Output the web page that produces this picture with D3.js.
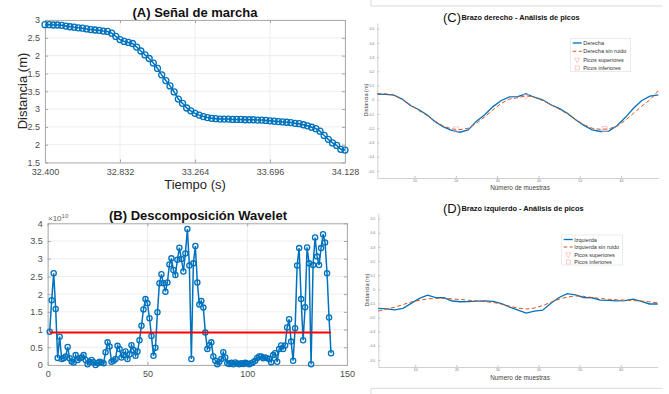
<!DOCTYPE html>
<html>
<head>
<meta charset="utf-8">
<script src="https://cdn.jsdelivr.net/npm/d3@7"></script>
<style>
  body { margin: 0; background: #fff; }
  text { font-family: "Liberation Sans", Arial, Helvetica, sans-serif; }
</style>
</head>
<body>
<svg id="chart" width="669" height="394"></svg>
<script>

// (A) gait signal, one sample every 0.024 s
var timeStartA = 32.4
var timeStepA = 0.024
var distA = [5.37, 5.37, 5.36, 5.36, 5.35, 5.33, 5.31, 5.30, 5.28, 5.27, 5.25, 5.23, 5.22, 5.21, 5.19, 5.18,
  5.13, 5.04, 4.95, 4.90, 4.87, 4.84, 4.74, 4.63, 4.52, 4.42, 4.29, 4.14, 3.96, 3.80, 3.65, 3.48, 3.28,
  3.16, 3.03, 2.95, 2.88, 2.83, 2.79, 2.76, 2.74, 2.73, 2.72, 2.72, 2.72, 2.71, 2.71, 2.71, 2.70, 2.70,
  2.70, 2.69, 2.69, 2.68, 2.67, 2.66, 2.65, 2.64, 2.63, 2.62, 2.60, 2.59, 2.56, 2.53, 2.49, 2.45, 2.38,
  2.26, 2.15, 2.05, 1.98, 1.87, 1.85]
var xTicksA = [32.400, 32.832, 33.264, 33.696, 34.128]
var yTicksA = [1.5, 2, 2.5, 3, 3.5, 4, 4.5, 5, 5.5]
var yTickLabelsA = ['1.5', '2', '2.5', '3', '3.5', '1.5', '2', '2.5', '3']

// (B) wavelet coefficients (x10^10), samples 1..142
var waveB = [0.94, 1.83, 2.59, 1.58, 0.20, 0.80, 0.17, 0.19, 0.24, 0.51, 0.19, 0.10, 0.07, 0.28, 0.14, 0.19,
  0.21, 0.28, 0.14, 0.02, 0.09, 0.14, 0.08, 0.00, 0.05, 0.09, 0.07, 0.05, 0.36, 0.64, 0.52, 0.09, 0.12,
  0.17, 0.54, 0.45, 0.21, 0.28, 0.38, 0.17, 0.30, 0.56, 0.42, 0.26, 0.38, 0.70, 1.11, 1.57, 1.86, 1.74,
  1.32, 0.82, 0.26, 0.49, 1.49, 2.31, 2.56, 2.31, 2.07, 2.33, 2.84, 3.01, 2.68, 2.54, 2.97, 3.31, 2.99,
  2.64, 3.15, 3.84, 2.81, 0.17, 2.87, 3.36, 2.33, 1.71, 1.81, 1.62, 0.92, 0.45, 0.56, 0.64, 0.24, 0.12,
  0.02, 0.09, 0.17, 0.36, 0.21, 0.05, 0.03, 0.06, 0.02, 0.07, 0.04, 0.02, 0.05, 0.03, 0.06, 0.04, 0.02,
  0.05, 0.08, 0.12, 0.20, 0.24, 0.24, 0.19, 0.21, 0.19, 0.17, 0.08, 0.28, 0.33, 0.09, 0.45, 0.55, 0.45,
  0.55, 1.06, 1.29, 0.66, 0.12, 1.04, 2.81, 3.30, 1.86, 0.70, 1.63, 3.32, 2.87, 0.02, 2.82, 3.60, 3.06,
  2.82, 3.30, 3.69, 3.46, 2.59, 1.34, 0.33]
var thresholdB = 0.92
var thresholdRangeB = [1, 142]
var xTicksB = [0, 50, 100, 150]
var yTicksB = [0, 0.5, 1, 1.5, 2, 2.5, 3, 3.5, 4]

// (C) and (D) arm signals, every second sample
var samplesCD = d3.range(1, 70, 2)
var derecha = [0.040, 0.038, 0.033, 0.005, -0.040, -0.068, -0.105, -0.155, -0.190, -0.215, -0.228, -0.212,
  -0.150, -0.105, -0.048, -0.005, 0.020, 0.022, 0.042, 0.018, 0.000, -0.035, -0.060, -0.095, -0.140,
  -0.180, -0.212, -0.223, -0.220, -0.182, -0.125, -0.060, -0.005, 0.025, 0.035]
var derechaSinRuido = [0.044, 0.042, 0.035, 0.005, -0.035, -0.075, -0.110, -0.150, -0.185, -0.205, -0.210,
  -0.200, -0.165, -0.120, -0.070, -0.025, 0.005, 0.015, 0.028, 0.018, -0.005, -0.035, -0.065, -0.100,
  -0.140, -0.175, -0.200, -0.208, -0.205, -0.185, -0.145, -0.095, -0.045, 0.000, 0.063]
var picosSupC = [[37, 0.026]]
var picosInfC = [[20, -0.208], [56, -0.204]]
var izquierda = [-0.135, -0.139, -0.145, -0.135, -0.100, -0.064, -0.041, -0.059, -0.060, -0.083, -0.088,
  -0.087, -0.084, -0.082, -0.085, -0.102, -0.127, -0.147, -0.168, -0.154, -0.148, -0.099, -0.058, -0.031,
  -0.040, -0.058, -0.060, -0.077, -0.079, -0.082, -0.080, -0.069, -0.085, -0.104, -0.104]
var izquierdaSinRuido = [-0.154, -0.140, -0.127, -0.108, -0.090, -0.078, -0.068, -0.064, -0.064, -0.068,
  -0.072, -0.078, -0.083, -0.088, -0.093, -0.105, -0.120, -0.133, -0.140, -0.133, -0.115, -0.092, -0.070,
  -0.055, -0.047, -0.050, -0.058, -0.065, -0.070, -0.074, -0.077, -0.080, -0.083, -0.089, -0.095]
var xTicksCD = [10, 20, 30, 40, 50, 60]
var yTicksCD = [-0.5, -0.4, -0.3, -0.2, -0.1, 0, 0.1, 0.2, 0.3, 0.4, 0.5]

var blue = '#0072BD'
var orange = '#D95319'
var pale = '#ffa8a8'
var axisGray = '#a6a6a6'
var labelGray = '#4d4d4d'

var svg = d3.select('#chart')

// matlab style box axes with grid (panels A and B)
function boxAxes(g, x, y, xTicks, yTicks, xFmt, yFmt) {
  var x0 = x.range()[0], x1 = x.range()[1], y0 = y.range()[0], y1 = y.range()[1]
  var grid = g.append('g').attr('class', 'grid')
  grid.selectAll('.gx').data(xTicks).enter().append('line')
    .attr('x1', d => x(d)).attr('x2', d => x(d)).attr('y1', y0).attr('y2', y1)
    .attr('stroke', '#e8e8e8').attr('stroke-width', 0.8)
  grid.selectAll('.gy').data(yTicks).enter().append('line')
    .attr('y1', d => y(d)).attr('y2', d => y(d)).attr('x1', x0).attr('x2', x1)
    .attr('stroke', '#e8e8e8').attr('stroke-width', 0.8)

  var axes = [
    [d3.axisBottom(x).tickValues(xTicks).tickFormat(xFmt).tickPadding(6), 'translate(0,' + y0 + ')'],
    [d3.axisTop(x).tickValues(xTicks).tickFormat('').tickPadding(5), 'translate(0,' + y1 + ')'],
    [d3.axisLeft(y).tickValues(yTicks).tickFormat(yFmt).tickPadding(5), 'translate(' + x0 + ',0)'],
    [d3.axisRight(y).tickValues(yTicks).tickFormat('').tickPadding(5), 'translate(' + x1 + ',0)']
  ]
  axes.forEach(function(a) {
    var ax = g.append('g').attr('transform', a[1])
      .call(a[0].tickSizeInner(-3).tickSizeOuter(0))
    ax.select('.domain').attr('stroke', axisGray).attr('stroke-width', 0.9)
    ax.selectAll('.tick line').attr('stroke', axisGray)
    ax.selectAll('.tick text').attr('fill', labelGray).style('font-size', '9px')
      .style('font-family', '"Liberation Sans", Arial, sans-serif')
  })
}

// ---- (A)
var xA = d3.scaleLinear().domain([32.4, 34.128]).range([45, 345])
var yA = d3.scaleLinear().domain([1.5, 5.5]).range([162.5, 20])
var gA = svg.append('g')
boxAxes(gA, xA, yA, xTicksA, yTicksA, d3.format('.3f'), (d, i) => yTickLabelsA[i])

var pointsA = distA.map((v, i) => [timeStartA + i * timeStepA, v])
gA.append('path').datum(pointsA)
  .attr('d', d3.line().x(d => xA(d[0])).y(d => yA(d[1])))
  .attr('fill', 'none').attr('stroke', blue).attr('stroke-width', 1.5)
gA.selectAll('.mA').data(pointsA).enter().append('circle')
  .attr('cx', d => xA(d[0])).attr('cy', d => yA(d[1])).attr('r', 3)
  .attr('fill', 'none').attr('stroke', blue).attr('stroke-width', 1.3)

gA.append('text').attr('x', 195).attr('y', 17).attr('text-anchor', 'middle')
  .style('font-size', '13px').style('font-weight', 'bold').attr('fill', '#111').text('(A) Señal de marcha')
gA.append('text').attr('x', 195).attr('y', 189).attr('text-anchor', 'middle')
  .style('font-size', '13px').attr('fill', '#262626').text('Tiempo (s)')
gA.append('text').attr('transform', 'translate(27,91) rotate(-90)').attr('text-anchor', 'middle')
  .style('font-size', '13px').attr('fill', '#262626').text('Distancia (m)')

// ---- (B)
var xB = d3.scaleLinear().domain([0, 150]).range([47.7, 347])
var yB = d3.scaleLinear().domain([0, 4]).range([365, 223.3])
var gB = svg.append('g')
boxAxes(gB, xB, yB, xTicksB, yTicksB, d3.format('d'), d3.format('~g'))

var pointsB = waveB.map((v, i) => [i + 1, v])
gB.append('path').datum(pointsB)
  .attr('d', d3.line().x(d => xB(d[0])).y(d => yB(d[1])))
  .attr('fill', 'none').attr('stroke', blue).attr('stroke-width', 1.5)
gB.selectAll('.mB').data(pointsB).enter().append('circle')
  .attr('cx', d => xB(d[0])).attr('cy', d => yB(d[1])).attr('r', 2.6)
  .attr('fill', 'none').attr('stroke', blue).attr('stroke-width', 1.3)
gB.append('line')
  .attr('x1', xB(thresholdRangeB[0])).attr('x2', xB(thresholdRangeB[1]))
  .attr('y1', yB(thresholdB)).attr('y2', yB(thresholdB))
  .attr('stroke', '#ff0000').attr('stroke-width', 2)

var expo = gB.append('text').attr('x', 48).attr('y', 221).style('font-size', '8px').attr('fill', '#666')
expo.append('tspan').text('×10')
expo.append('tspan').attr('dy', -3).style('font-size', '6px').text('10')
gB.append('text').attr('x', 198).attr('y', 220).attr('text-anchor', 'middle')
  .style('font-size', '13px').style('font-weight', 'bold').attr('fill', '#111').text('(B) Descomposición Wavelet')

// ---- (C) and (D)
function armPanel(cfg) {
  var x = d3.scaleLinear().domain([1, 69]).range(cfg.xr)
  var y = d3.scaleLinear().domain([-0.55, 0.54]).range(cfg.yr)
  var g = svg.append('g')

  var ax = g.append('g').attr('transform', 'translate(0,' + cfg.yr[0] + ')')
    .call(d3.axisBottom(x).tickValues(xTicksCD).tickSizeInner(-2).tickSizeOuter(0).tickPadding(2))
  var ay = g.append('g').attr('transform', 'translate(' + cfg.xr[0] + ',0)')
    .call(d3.axisLeft(y).tickValues(yTicksCD).tickSizeInner(-2).tickSizeOuter(0).tickPadding(3)
      .tickFormat(d => d === 0 ? '0' : d.toFixed(1)))
  ;[ax, ay].forEach(function(a) {
    a.select('.domain').attr('stroke', '#c4c4c4').attr('stroke-width', 0.8)
    a.selectAll('.tick line').attr('stroke', '#c4c4c4')
    a.selectAll('.tick text').attr('fill', '#777').style('font-size', '3.5px')
      .style('font-family', '"Liberation Sans", Arial, sans-serif')
  })

  var line = d3.line().x((d, i) => x(samplesCD[i])).y(d => y(d))
  g.append('path').datum(cfg.raw).attr('d', line)
    .attr('fill', 'none').attr('stroke', blue).attr('stroke-width', 1.3)
  g.append('path').datum(cfg.clean).attr('d', line)
    .attr('fill', 'none').attr('stroke', orange).attr('stroke-width', 1)
    .attr('stroke-dasharray', '4,2.5')

  g.selectAll('.sup').data(cfg.sup).enter().append('path')
    .attr('d', d3.symbol().type(d3.symbolTriangle).size(14))
    .attr('transform', d => 'translate(' + x(d[0]) + ',' + y(d[1]) + ') rotate(180)')
    .attr('fill', 'none').attr('stroke', pale).attr('stroke-width', 0.6)
  g.selectAll('.inf').data(cfg.inf).enter().append('rect')
    .attr('x', d => x(d[0]) - 2.5).attr('y', d => y(d[1]) - 2.5).attr('width', 5).attr('height', 5)
    .attr('fill', 'none').attr('stroke', pale).attr('stroke-width', 0.6)

  // title: big letter then small bold text
  g.append('text').attr('x', 443).attr('y', cfg.titleY + 2).style('font-size', '13px')
    .attr('fill', '#111').text(cfg.letter)
  g.append('text').attr('x', 461.5).attr('y', cfg.titleY).style('font-size', '7.4px')
    .style('font-weight', 'bold').attr('fill', '#111').text(cfg.title)

  g.append('text').attr('x', 520).attr('y', cfg.xLabelY).attr('text-anchor', 'middle')
    .style('font-size', '6.4px').attr('fill', '#444').text(cfg.xLabel)
  g.append('text').attr('transform', 'translate(' + cfg.yLabelX + ',' + cfg.yLabelMid + ') rotate(-90)')
    .attr('text-anchor', 'middle').style('font-size', '5.6px').attr('fill', '#444').text('Distancia (m)')

  // legend
  var lg = g.append('g').attr('transform', 'translate(' + cfg.legend[0] + ',' + cfg.legend[1] + ')')
  lg.append('rect').attr('width', cfg.legend[2]).attr('height', cfg.legend[3])
    .attr('fill', '#fff').attr('stroke', '#dcdcdc').attr('stroke-width', 0.6)
  var step = cfg.legendStep
  cfg.names.forEach(function(name, i) {
    var ry = 4.5 + i * step
    if (i === 0) lg.append('line').attr('x1', 2).attr('x2', 11).attr('y1', ry).attr('y2', ry)
      .attr('stroke', blue).attr('stroke-width', 1.3)
    if (i === 1) lg.append('line').attr('x1', 2).attr('x2', 11).attr('y1', ry).attr('y2', ry)
      .attr('stroke', orange).attr('stroke-width', 1).attr('stroke-dasharray', '3.5,2.5')
    if (i === 2) lg.append('path').attr('d', d3.symbol().type(d3.symbolTriangle).size(12))
      .attr('transform', 'translate(6.5,' + ry + ') rotate(180)')
      .attr('fill', 'none').attr('stroke', pale).attr('stroke-width', 0.6)
    if (i === 3) lg.append('rect').attr('x', 4.5).attr('y', ry - 2).attr('width', 4).attr('height', 4)
      .attr('fill', 'none').attr('stroke', pale).attr('stroke-width', 0.6)
    lg.append('text').attr('x', 12.5).attr('y', ry + 2).style('font-size', '5.5px')
      .attr('fill', '#333').text(name)
  })
}

armPanel({
  xr: [377.3, 658.3], yr: [178, 23], raw: derecha, clean: derechaSinRuido,
  sup: picosSupC, inf: picosInfC, letter: '(C)', title: 'Brazo derecho - Análisis de picos', titleY: 20,
  xLabel: 'Número de muestras', xLabelY: 190, yLabelX: 368, yLabelMid: 100,
  legend: [570.7, 38.5, 60, 33.2], legendStep: 8.3,
  names: ['Derecha', 'Derecha sin ruido', 'Picos superiores', 'Picos inferiores']
})
armPanel({
  xr: [378.3, 657.7], yr: [367, 213], raw: izquierda, clean: izquierdaSinRuido,
  sup: [], inf: [], letter: '(D)', title: 'Brazo izquierdo - Análisis de picos', titleY: 211,
  xLabel: 'Numero de muestras', xLabelY: 380, yLabelX: 369, yLabelMid: 290,
  legend: [561.7, 235, 60.6, 30], legendStep: 7.5,
  names: ['Izquierda', 'Izquierda sin ruido', 'Picos superiores', 'Picos inferiores']
})

// fragments of the neighbouring figure frames
var frame = svg.append('g').attr('fill', 'none').attr('stroke', '#cfcfcf').attr('stroke-width', 0.8)
frame.append('path').attr('d', 'M371,0 V6 H662')
frame.append('path').attr('d', 'M371,394 V388.3 H662')

</script>
</body>
</html>
